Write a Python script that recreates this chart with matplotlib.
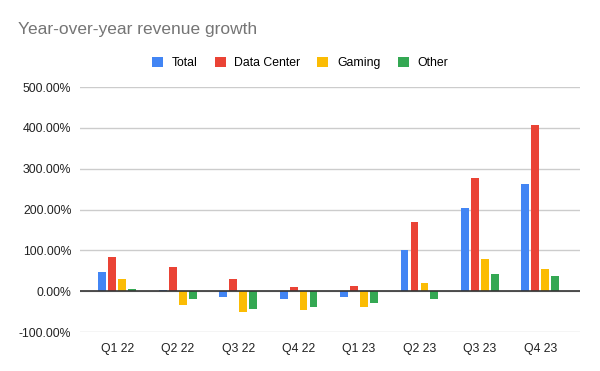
import numpy as np
import matplotlib
matplotlib.use('Agg')
import matplotlib.pyplot as plt
from matplotlib.ticker import FuncFormatter

plt.rcParams['font.family'] = ['Liberation Sans', 'DejaVu Sans']

# Dados (crescimento ano a ano, %)
quarters = ["Q1 22", "Q2 22", "Q3 22", "Q4 22", "Q1 23", "Q2 23", "Q3 23", "Q4 23"]
total = [46, 3, -15, -20, -13, 101, 204, 263]
data_center = [83, 59, 30, 11, 14, 170, 278, 408]
gaming = [30, -33, -51, -46, -38, 20, 80, 55]
other = [5, -20, -44, -38, -29, -19, 42, 37]

series = [
    ("Total", total, "#4285F4"),
    ("Data Center", data_center, "#EA4335"),
    ("Gaming", gaming, "#FBBC04"),
    ("Other", other, "#34A853"),
]

fig = plt.figure(figsize=(6, 3.71), dpi=100)
ax = fig.add_axes([0.133, 0.105, 0.834, 0.66])

x = np.arange(len(quarters))
width = 0.13
step = 0.165
for i, (name, vals, color) in enumerate(series):
    ax.bar(x + (i - 1.5) * step, vals, width, color=color, label=name, zorder=3)

ax.set_ylim(-100, 500)
ax.set_yticks(range(-100, 501, 100))
ax.yaxis.set_major_formatter(FuncFormatter(lambda v, p: f"{v:.2f}%"))
ax.set_xlim(-0.62, 7.66)
ax.set_xticks(x)
ax.set_xticklabels(quarters)

ax.grid(axis='y', color='#cccccc', linewidth=1, zorder=0)
ax.axhline(0, color='#333333', linewidth=1.2, zorder=4)
for s in ax.spines.values():
    s.set_visible(False)
ax.tick_params(length=0, labelsize=8.8, colors='#222222')
ax.tick_params(axis='y', pad=6)
ax.tick_params(axis='x', pad=8)

fig.text(0.03, 0.92, "Year-over-year revenue growth", fontsize=12.5, color='#757575', va='center')
fig.legend(loc='center', bbox_to_anchor=(0.5, 0.83), ncol=4, frameon=False,
           fontsize=8.8, handlelength=0.9, handleheight=0.9, handletextpad=0.7,
           columnspacing=1.4)

fig.savefig("out.png", dpi=100)
